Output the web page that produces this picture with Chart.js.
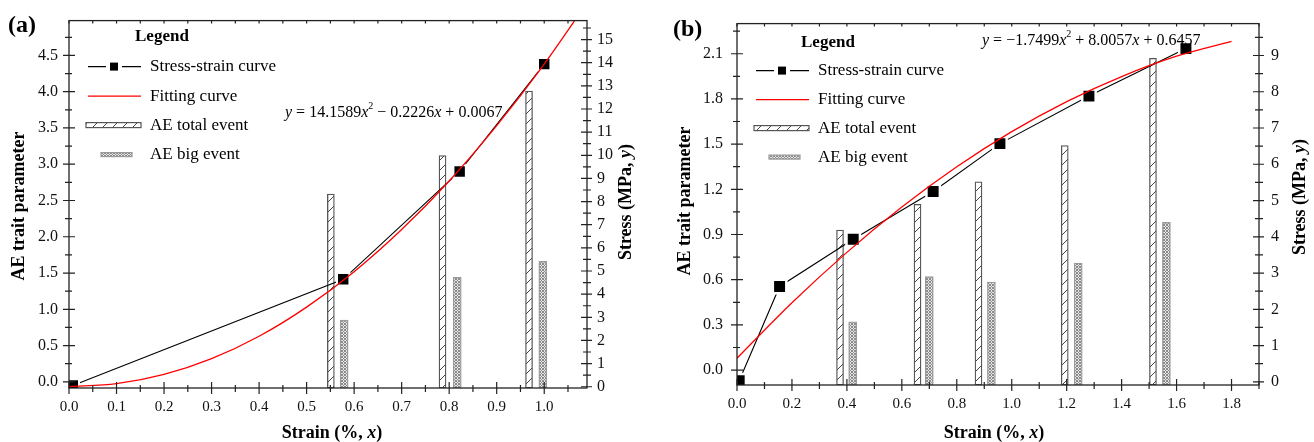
<!DOCTYPE html>
<html>
<head>
<meta charset="utf-8">
<script src="https://cdn.jsdelivr.net/npm/chart.js@4"></script>
<style>
  html, body { margin: 0; padding: 0; background: #fff; }
  #wrap { position: relative; width: 1314px; height: 442px; }
  canvas { position: absolute; top: 0; }
  #cA { left: 0; }
  #cB { left: 657px; }
</style>
</head>
<body>
<div id="wrap">
  <canvas id="cA" width="657" height="442"></canvas>
  <canvas id="cB" width="657" height="442"></canvas>
</div>
<script>
// ---- data ----
const seriesNames = ['Stress-strain curve', 'Fitting curve', 'AE total event', 'AE big event'];

// panel (a)
const strainA = [0.008, 0.577, 0.822, 1.0];
const stressA = [0.05, 4.64, 9.30, 13.94];
const fitStrainA = [0, 0.1, 0.2, 0.3, 0.4, 0.5, 0.6, 0.7, 0.8, 0.9, 1.0, 1.09];
const fitStressA = [0.01, 0.13, 0.53, 1.21, 2.18, 3.44, 4.97, 6.79, 8.89, 11.28, 13.94, 16.59];
const totalStrainA = [0.551, 0.786, 0.968];
const totalA = [2.59, 3.12, 4.01];
const bigStrainA = [0.579, 0.817, 0.997];
const bigA = [0.85, 1.44, 1.66];
const xTicksA = [0, 0.1, 0.2, 0.3, 0.4, 0.5, 0.6, 0.7, 0.8, 0.9, 1.0];
const yTicksA = [0, 0.5, 1.0, 1.5, 2.0, 2.5, 3.0, 3.5, 4.0, 4.5];
const y2TicksA = [0, 1, 2, 3, 4, 5, 6, 7, 8, 9, 10, 11, 12, 13, 14, 15];

// panel (b)
const strainB = [0.008, 0.155, 0.423, 0.714, 0.957, 1.281, 1.634];
const stressB = [0.03, 2.63, 3.93, 5.25, 6.57, 7.88, 9.19];
const fitStrainB = [0, 0.2, 0.4, 0.6, 0.8, 1.0, 1.2, 1.4, 1.6, 1.8];
const fitStressB = [0.65, 2.18, 3.57, 4.82, 5.93, 6.90, 7.73, 8.42, 8.98, 9.39];
const totalStrainB = [0.375, 0.657, 0.879, 1.193, 1.514];
const totalB = [0.93, 1.10, 1.25, 1.49, 2.07];
const bigStrainB = [0.421, 0.700, 0.926, 1.242, 1.563];
const bigB = [0.32, 0.62, 0.585, 0.71, 0.98];
const xTicksB = [0, 0.2, 0.4, 0.6, 0.8, 1.0, 1.2, 1.4, 1.6, 1.8];
const yTicksB = [0, 0.3, 0.6, 0.9, 1.2, 1.5, 1.8, 2.1];
const y2TicksB = [0, 1, 2, 3, 4, 5, 6, 7, 8, 9];

const SERIF = '"Liberation Serif", "Times New Roman", serif';
const INK = '#111';

// fill patterns for the AE bars
function hatchPattern() {
  const c = document.createElement('canvas');
  c.width = 10; c.height = 10;
  const g = c.getContext('2d');
  g.fillStyle = '#fff';
  g.fillRect(0, 0, 10, 10);
  g.strokeStyle = '#444';
  g.lineWidth = 1;
  g.beginPath();
  g.moveTo(0, 10); g.lineTo(10, 0);
  g.moveTo(-2, 2); g.lineTo(2, -2);
  g.moveTo(8, 12); g.lineTo(12, 8);
  g.stroke();
  return g.createPattern(c, 'repeat');
}
function crossPattern() {
  const c = document.createElement('canvas');
  c.width = 3; c.height = 3;
  const g = c.getContext('2d');
  g.fillStyle = '#e6e6e6';
  g.fillRect(0, 0, 3, 3);
  g.fillStyle = '#8a8a8a';
  [[0, 0], [2, 0], [1, 1], [0, 2], [2, 2]].forEach(p => g.fillRect(p[0], p[1], 1, 1));
  return g.createPattern(c, 'repeat');
}
const HATCH = hatchPattern();
const CROSS = crossPattern();

const pts = (xs, ys) => xs.map((x, i) => ({ x: x, y: ys[i] }));

function richText(ctx, parts, x, y, align, rot) {
  ctx.save();
  ctx.translate(x, y);
  if (rot) ctx.rotate(rot);
  ctx.textBaseline = 'middle';
  ctx.textAlign = 'left';
  let w = 0;
  parts.forEach(p => { ctx.font = p.f; w += ctx.measureText(p.t).width; });
  let cx = align === 'center' ? -w / 2 : 0;
  parts.forEach(p => {
    ctx.font = p.f;
    ctx.fillStyle = '#000';
    ctx.fillText(p.t, cx, p.dy || 0);
    cx += ctx.measureText(p.t).width;
  });
  ctx.restore();
}

function stepsIn(min, max, step) {
  const out = [];
  for (let k = Math.ceil(min / step - 1e-9); k * step <= max + 1e-9; k++) out.push(k * step);
  return out;
}

// frame, tick marks (major + minor, crossing the axis), titles, legend, equation
function makeDecor(cfg) {
  return {
    id: 'decor',
    afterDraw(chart) {
      const ctx = chart.ctx;
      const ca = chart.chartArea;
      const sx = chart.scales.x, sl = chart.scales.yL, sr = chart.scales.yR;
      ctx.save();
      ctx.strokeStyle = '#222';
      ctx.lineWidth = 1.3;
      ctx.strokeRect(ca.left, ca.top, ca.right - ca.left, ca.bottom - ca.top);

      ctx.lineWidth = 1.2;
      ctx.beginPath();
      stepsIn(sx.min, sx.max, cfg.minor[0]).forEach(v => {
        const p = sx.getPixelForValue(v);
        const major = cfg.xTicks.some(t => Math.abs(t - v) < 1e-6);
        const a = major ? 6 : 3, b = major ? 6 : 4;
        ctx.moveTo(p, ca.bottom - a); ctx.lineTo(p, ca.bottom + b);
        ctx.moveTo(p, ca.top); ctx.lineTo(p, ca.top + 3);
      });
      stepsIn(sl.min, sl.max, cfg.minor[1]).forEach(v => {
        const p = sl.getPixelForValue(v);
        const major = cfg.yTicks.some(t => Math.abs(t - v) < 1e-6);
        const a = major ? 6 : 3, b = major ? 6 : 4;
        ctx.moveTo(ca.left - b, p); ctx.lineTo(ca.left + a, p);
      });
      stepsIn(sr.min, sr.max, cfg.minor[2]).forEach(v => {
        const p = sr.getPixelForValue(v);
        const major = cfg.y2Ticks.some(t => Math.abs(t - v) < 1e-6);
        const a = major ? 6 : 4, b = major ? 5 : 4;
        ctx.moveTo(ca.right - a, p); ctx.lineTo(ca.right + b, p);
      });
      ctx.stroke();
      ctx.restore();

      const B18 = 'bold 18px ' + SERIF, BI18 = 'italic bold 18px ' + SERIF;
      richText(ctx, [{ t: 'AE trait parameter', f: B18 }], cfg.titleL[0], cfg.titleL[1], 'center', -Math.PI / 2);
      richText(ctx, [{ t: 'Stress (MPa, ', f: B18 }, { t: 'y', f: BI18 }, { t: ')', f: B18 }],
        cfg.titleR[0], cfg.titleR[1], 'center', -Math.PI / 2);
      richText(ctx, [{ t: 'Strain (%, ', f: B18 }, { t: 'x', f: BI18 }, { t: ')', f: B18 }],
        cfg.titleX[0], cfg.titleX[1], 'center', 0);
      richText(ctx, [{ t: cfg.panel, f: 'bold 24px ' + SERIF }], cfg.panelPos[0], cfg.panelPos[1], 'left', 0);

      // equation of the fitting curve
      const R = '16px ' + SERIF, I = 'italic 16px ' + SERIF, S = '10px ' + SERIF;
      const eq = [{ t: 'y', f: I }, { t: ' = ' + cfg.eq[0], f: R }, { t: 'x', f: I }, { t: '2', f: S, dy: -6 },
        { t: ' ' + cfg.eq[1], f: R }, { t: 'x', f: I }, { t: ' ' + cfg.eq[2], f: R }];
      richText(ctx, eq, ca.left + cfg.eqPos[0], ca.top + cfg.eqPos[1], 'left', 0);

      // legend
      const x0 = ca.left, y0 = ca.top, rows = cfg.rows.map(r => y0 + r);
      richText(ctx, [{ t: 'Legend', f: 'bold 17px ' + SERIF }], x0 + cfg.head[0], y0 + cfg.head[1], 'left', 0);
      ctx.save();
      ctx.strokeStyle = '#000';
      ctx.lineWidth = 1.2;
      ctx.beginPath();
      ctx.moveTo(x0 + 19, rows[0]); ctx.lineTo(x0 + 37, rows[0]);
      ctx.moveTo(x0 + 53, rows[0]); ctx.lineTo(x0 + 72, rows[0]);
      ctx.stroke();
      ctx.fillStyle = '#000';
      ctx.fillRect(x0 + 41, rows[0] - 4, 8, 8);
      ctx.strokeStyle = '#f00';
      ctx.beginPath();
      ctx.moveTo(x0 + 19, rows[1]); ctx.lineTo(x0 + 72, rows[1]);
      ctx.stroke();
      ctx.fillStyle = HATCH;
      ctx.fillRect(x0 + 17, rows[2] - 2.5, 55, 5);
      ctx.strokeStyle = '#555';
      ctx.strokeRect(x0 + 17, rows[2] - 2.5, 55, 5);
      ctx.fillStyle = CROSS;
      ctx.fillRect(x0 + 32, rows[3] - 2, 31, 4);
      ctx.strokeStyle = '#9a9a9a';
      ctx.strokeRect(x0 + 32, rows[3] - 2, 31, 4);
      ctx.restore();
      seriesNames.forEach((name, i) => {
        richText(ctx, [{ t: name, f: '17px ' + SERIF }], x0 + 81, rows[i], 'left', 0);
      });
    }
  };
}

function buildChart(id, d) {
  const tickFont = (s) => ({ family: SERIF, size: s });
  return new Chart(document.getElementById(id), {
    type: 'line',
    data: {
      datasets: [
        {
          label: seriesNames[1], data: pts(d.fitX, d.fitY), yAxisID: 'yR', order: 0,
          borderColor: '#ff0000', borderWidth: 1.3, pointRadius: 0, cubicInterpolationMode: 'monotone'
        },
        {
          label: seriesNames[0], data: pts(d.sx, d.sy), yAxisID: 'yR', order: 1,
          borderColor: '#000', borderWidth: 1.1, tension: 0,
          pointStyle: 'rect', pointRadius: d.pr, pointBorderWidth: d.pb,
          pointBackgroundColor: '#000', pointBorderColor: '#fff'
        },
        {
          type: 'bar', label: seriesNames[2], data: pts(d.tx, d.ty), yAxisID: 'yL', order: 2,
          base: d.yMin, grouped: false, barThickness: 7, borderSkipped: false,
          backgroundColor: HATCH, borderColor: '#555', borderWidth: 1.3
        },
        {
          type: 'bar', label: seriesNames[3], data: pts(d.bx, d.by), yAxisID: 'yL', order: 3,
          base: d.yMin, grouped: false, barThickness: 8, borderSkipped: false,
          backgroundColor: CROSS, borderColor: '#9a9a9a', borderWidth: 1.3
        }
      ]
    },
    options: {
      responsive: false,
      animation: false,
      layout: { padding: { top: d.top, left: 0, right: 0, bottom: 0 } },
      plugins: { legend: { display: false }, tooltip: { enabled: false } },
      scales: {
        x: {
          type: 'linear', min: 0, max: d.xMax, offset: false,
          afterFit: s => { s.height = d.xh; },
          afterBuildTicks: s => { s.ticks = d.xTicks.map(v => ({ value: v })); },
          grid: { display: false, drawTicks: false }, border: { display: false },
          ticks: { font: tickFont(15), color: INK, padding: 10, maxRotation: 0, autoSkip: false,
                   callback: v => v.toFixed(1) }
        },
        yL: {
          type: 'linear', position: 'left', min: d.yMin, max: d.yMax,
          afterFit: s => { s.width = d.lw; },
          afterBuildTicks: s => { s.ticks = d.yTicks.map(v => ({ value: v })); },
          grid: { display: false, drawTicks: false }, border: { display: false },
          ticks: { font: tickFont(16), color: INK, padding: d.lp, autoSkip: false,
                   callback: v => v.toFixed(1) }
        },
        yR: {
          type: 'linear', position: 'right', min: d.y2Min, max: d.y2Max,
          afterFit: s => { s.width = d.rw; },
          afterBuildTicks: s => { s.ticks = d.y2Ticks.map(v => ({ value: v })); },
          grid: { display: false, drawTicks: false }, border: { display: false },
          ticks: { font: tickFont(16), color: INK, padding: d.rp, autoSkip: false,
                   callback: v => String(v) }
        }
      }
    },
    plugins: [makeDecor(d.decor)]
  });
}

buildChart('cA', {
  fitX: fitStrainA, fitY: fitStressA, sx: strainA, sy: stressA,
  tx: totalStrainA, ty: totalA, bx: bigStrainA, by: bigA,
  xMax: 1.09, yMin: -0.085, yMax: 4.98, y2Min: -0.055, y2Max: 15.82,
  xTicks: xTicksA, yTicks: yTicksA, y2Ticks: y2TicksA,
  top: 14, xh: 54, lw: 69, rw: 70, lp: 11, rp: 10, pr: 8.8, pb: 2,
  decor: {
    xTicks: xTicksA, yTicks: yTicksA, y2Ticks: y2TicksA, minor: [0.05, 0.25, 0.5],
    titleL: [19, 206], titleR: [626, 202], titleX: [332, 433],
    panel: '(a)', panelPos: [8, 26],
    eq: ['14.1589', '\u2212 0.2226', '+ 0.0067'], eqPos: [216, 92],
    head: [66, 16], rows: [46, 75.5, 104.5, 134]
  }
});

buildChart('cB', {
  fitX: fitStrainB, fitY: fitStressB, sx: strainB, sy: stressB,
  tx: totalStrainB, ty: totalB, bx: bigStrainB, by: bigB,
  xMax: 1.9, yMin: -0.099, yMax: 2.30, y2Min: -0.088, y2Max: 9.88,
  xTicks: xTicksB, yTicks: yTicksB, y2Ticks: y2TicksB,
  top: 13, xh: 57, lw: 80, rw: 55, lp: 14, rp: 12, pr: 9.5, pb: 2.5,
  decor: {
    xTicks: xTicksB, yTicks: yTicksB, y2Ticks: y2TicksB, minor: [0.1, 0.15, 0.5],
    titleL: [28, 201], titleR: [643, 197], titleX: [337, 433],
    panel: '(b)', panelPos: [16, 30],
    eq: ['\u22121.7499', '+ 8.0057', '+ 0.6457'], eqPos: [245, 17],
    head: [64, 19], rows: [47, 76, 104.5, 133.5]
  }
});
</script>
</body>
</html>
